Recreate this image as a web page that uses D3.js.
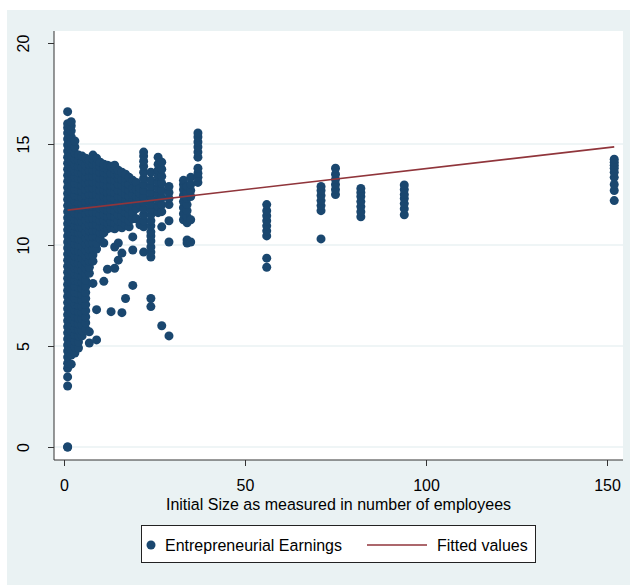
<!DOCTYPE html>
<html><head><meta charset="utf-8">
<script src="https://cdn.jsdelivr.net/npm/d3@7"></script>
<style>html,body{margin:0;padding:0;background:#fff;}svg{display:block;}</style>
</head><body>
<script>
// ---- data ----
const sizes = [1,2,3,4,5,6,7,8,9,10,11,12,13,14,15,16,17,18,19,20,21,22,24,26,27,29,33,34,35,37,56,71,75,82,94,152];
const earnings = [
  [0,0,3.02,3.47,3.9,4.15,4.45,4.75,5.05,5.35,5.65,5.95,6.25,6.55,6.85,7.15,7.45,7.75,8.05,8.35,8.65,8.95,9.25,9.55,9.85,10.15,10.45,10.75,11.05,11.35,11.65,11.95,12.25,12.55,12.85,13.15,13.45,13.75,14.05,14.35,14.65,14.95,15.25,15.55,15.8,16.0,16.6],
  [4.1,4.55,4.85,5.15,5.45,5.75,6.05,6.35,6.65,6.95,7.25,7.55,7.85,8.15,8.45,8.75,9.05,9.35,9.65,9.95,10.25,10.55,10.85,11.15,11.45,11.75,12.05,12.35,12.65,12.95,13.25,13.55,13.85,14.15,14.45,14.75,15.05,15.35,15.65,15.9,16.1],
  [4.65,4.95,5.25,5.55,5.85,6.15,6.45,6.75,7.05,7.35,7.65,7.95,8.25,8.55,8.85,9.15,9.45,9.75,10.05,10.35,10.65,10.95,11.25,11.55,11.85,12.15,12.45,12.75,13.05,13.35,13.65,13.95,14.25,14.55,14.85,15.15],
  [4.9,5.2,5.5,5.8,6.1,6.4,6.7,7.0,7.3,7.6,7.9,8.2,8.5,8.8,9.1,9.4,9.7,10.0,10.3,10.6,10.9,11.2,11.5,11.8,12.1,12.4,12.7,13.0,13.3,13.6,13.9,14.2,14.45],
  [5.5,5.75,6.05,6.35,6.65,6.95,7.25,7.55,7.85,8.15,8.45,8.75,9.05,9.35,9.65,9.95,10.25,10.55,10.85,11.15,11.45,11.75,12.05,12.35,12.65,12.95,13.25,13.55,13.85,14.15,14.4],
  [5.85,6.15,6.45,6.75,7.05,7.35,7.65,7.95,8.25,8.55,8.85,9.15,9.45,9.75,10.05,10.35,10.65,10.95,11.25,11.55,11.85,12.15,12.45,12.75,13.05,13.35,13.65,13.95,14.3],
  [5.15,5.7,8.6,8.9,9.2,9.5,9.8,10.1,10.4,10.7,11.0,11.3,11.6,11.9,12.2,12.5,12.8,13.1,13.4,13.7,14.0,14.2],
  [8.1,9.2,9.5,9.8,10.1,10.4,10.7,11.0,11.3,11.6,11.9,12.2,12.5,12.8,13.1,13.4,13.7,14.0,14.25,14.45],
  [5.3,6.8,9.8,10.1,10.4,10.7,11.0,11.3,11.6,11.9,12.2,12.5,12.8,13.1,13.4,13.7,14.0,14.3],
  [10.3,10.6,10.9,11.2,11.5,11.8,12.1,12.4,12.7,13.0,13.3,13.6,13.9,14.1],
  [8.2,10.1,10.6,10.9,11.2,11.5,11.8,12.1,12.4,12.7,13.0,13.3,13.6,13.85,14.0],
  [8.8,10.8,11.1,11.4,11.7,12.0,12.3,12.6,12.9,13.2,13.5,13.75,13.95],
  [6.7,10.85,11.15,11.45,11.75,12.05,12.35,12.65,12.95,13.25,13.55,13.9],
  [8.85,9.9,10.8,11.1,11.4,11.7,12.0,12.3,12.6,12.9,13.2,13.5,13.75,13.95],
  [9.25,10.1,10.9,11.2,11.5,11.8,12.1,12.4,12.7,13.0,13.3,13.5,13.7],
  [6.65,9.6,10.85,11.15,11.45,11.75,12.05,12.35,12.65,12.95,13.25,13.6],
  [7.35,11.0,11.3,11.6,11.9,12.2,12.5,12.8,13.1,13.3,13.5],
  [10.9,11.2,11.5,11.8,12.1,12.4,12.7,13.0,13.35],
  [8.0,9.75,10.4,11.3,11.6,11.9,12.2,12.5,12.8,13.2],
  [11.3,11.8,12.1,12.4,12.75,13.1],
  [11.0,12.0,12.3,12.55,12.8],
  [9.65,10.9,11.2,11.5,11.8,12.1,12.4,12.7,13.0,13.3,13.6,13.9,14.15,14.4,14.6],
  [6.95,7.35,9.4,9.65,9.9,10.2,10.45,10.65,10.95,11.2,11.5,11.75,12.0,12.3,12.6,12.9,13.2,13.6],
  [11.6,11.9,12.2,12.5,12.8,13.1,13.4,13.7,14.0,14.35],
  [6.0,10.9,11.65,12.0,12.35,12.7,13.05,13.4,13.75,14.1],
  [5.5,10.15,11.2,12.0,12.3,12.6,12.9],
  [11.25,11.55,11.85,12.15,12.45,12.75,13.0,13.2],
  [10.1,10.25,11.1,11.4,11.7,12.0,12.3,12.6,12.9],
  [10.15,11.25,12.4,12.7,13.0,13.35],
  [13.1,13.35,13.55,13.8,14.35,14.6,14.85,15.1,15.35,15.55],
  [8.9,9.35,10.45,10.7,10.95,11.2,11.45,11.7,12.0],
  [10.3,11.7,11.95,12.2,12.45,12.7,12.9],
  [12.5,12.75,13.0,13.25,13.5,13.8],
  [11.4,11.65,11.9,12.15,12.4,12.6,12.8],
  [11.5,11.8,12.05,12.3,12.5,12.75,12.97],
  [12.2,12.7,13.0,13.35,13.6,13.8,13.95,14.1,14.25]
];
const fitSizes = [1, 152];
const fitValues = [11.73, 14.86];
const xTicks = [0, 50, 100, 150];
const yTicks = [0, 5, 10, 15, 20];
const gridValues = [0, 5, 10, 15];
const legendLabels = ["Entrepreneurial Earnings", "Fitted values"];
const xTitle = "Initial Size as measured in number of employees";

// ---- drawing ----
const W = 630, H = 585;
const BG = "#eaf2f3", NAVY = "#1a476f", MAROON = "#90353b";
const FONT = "'Liberation Sans', Arial, Helvetica, sans-serif";
const FS = 16.5, SX = 0.97;

const svg = d3.select("body").append("svg").attr("width", W).attr("height", H);
svg.append("rect").attr("x", 7).attr("y", 10).attr("width", W - 7).attr("height", H - 10).attr("fill", BG);

const plot = {left: 54, top: 31, right: 623, bottom: 460};
svg.append("rect").attr("x", plot.left).attr("y", plot.top)
  .attr("width", plot.right - plot.left).attr("height", plot.bottom - plot.top).attr("fill", "#fff");

const x = d3.scaleLinear().domain([0, 150]).range([64, 607]);
const y = d3.scaleLinear().domain([0, 20]).range([447, 43]);

// grid
svg.append("g").selectAll("line").data(gridValues).join("line")
  .attr("x1", plot.left).attr("x2", plot.right)
  .attr("y1", d => y(d)).attr("y2", d => y(d))
  .attr("stroke", BG).attr("stroke-width", 1.6);

// points
const pts = [];
sizes.forEach((s, i) => earnings[i].forEach(v => pts.push([s, v])));
svg.append("g").selectAll("circle").data(pts).join("circle")
  .attr("cx", d => x(d[0])).attr("cy", d => y(d[1])).attr("r", 4.5)
  .attr("fill", NAVY);

// fitted line
svg.append("path").datum(fitSizes.map((s, i) => [s, fitValues[i]]))
  .attr("d", d3.line().x(d => x(d[0])).y(d => y(d[1])))
  .attr("fill", "none").attr("stroke", MAROON).attr("stroke-width", 1.7);

// axes
const AX = "#333";
const yAxis = svg.append("g").attr("transform", `translate(${plot.left},0)`)
  .call(d3.axisLeft(y).tickValues(yTicks).tickSize(6).tickFormat(""));
yAxis.select(".domain").attr("d", `M0,${plot.top}V${plot.bottom}`).attr("stroke", AX);
yAxis.selectAll(".tick line").attr("stroke", AX);
yAxis.selectAll(".tick").append("text")
  .attr("transform", `translate(-25,0) rotate(-90) scale(${SX},1)`)
  .attr("text-anchor", "middle").attr("fill", "#000")
  .attr("font-family", FONT).attr("font-size", FS)
  .text(d => d);

const xAxis = svg.append("g").attr("transform", `translate(0,${plot.bottom})`)
  .call(d3.axisBottom(x).tickValues(xTicks).tickSize(6).tickFormat(""));
xAxis.select(".domain").attr("d", `M${plot.left},0H${plot.right}`).attr("stroke", AX);
xAxis.selectAll(".tick line").attr("stroke", AX);
xAxis.selectAll(".tick").append("text")
  .attr("transform", `translate(0,31) scale(${SX},1)`)
  .attr("text-anchor", "middle").attr("fill", "#000")
  .attr("font-family", FONT).attr("font-size", FS)
  .text(d => d);

svg.append("text")
  .attr("transform", `translate(${(plot.left + plot.right) / 2},509.5) scale(${SX},1)`)
  .attr("text-anchor", "middle").attr("font-family", FONT).attr("font-size", FS).attr("fill", "#000")
  .text(xTitle);

// legend
const lg = svg.append("g");
lg.append("rect").attr("x", 141.5).attr("y", 525.5).attr("width", 394).attr("height", 37)
  .attr("fill", "#fff").attr("stroke", "#222").attr("stroke-width", 1);
lg.append("circle").attr("cx", 151).attr("cy", 545).attr("r", 4.5).attr("fill", NAVY);
lg.append("text").attr("transform", `translate(165,551) scale(${SX},1)`)
  .attr("font-family", FONT).attr("font-size", FS).attr("fill", "#000").text(legendLabels[0]);
lg.append("line").attr("x1", 367).attr("x2", 427).attr("y1", 545).attr("y2", 545)
  .attr("stroke", MAROON).attr("stroke-width", 1.7);
lg.append("text").attr("transform", `translate(437,551) scale(${SX},1)`)
  .attr("font-family", FONT).attr("font-size", FS).attr("fill", "#000").text(legendLabels[1]);
</script>
</body></html>
